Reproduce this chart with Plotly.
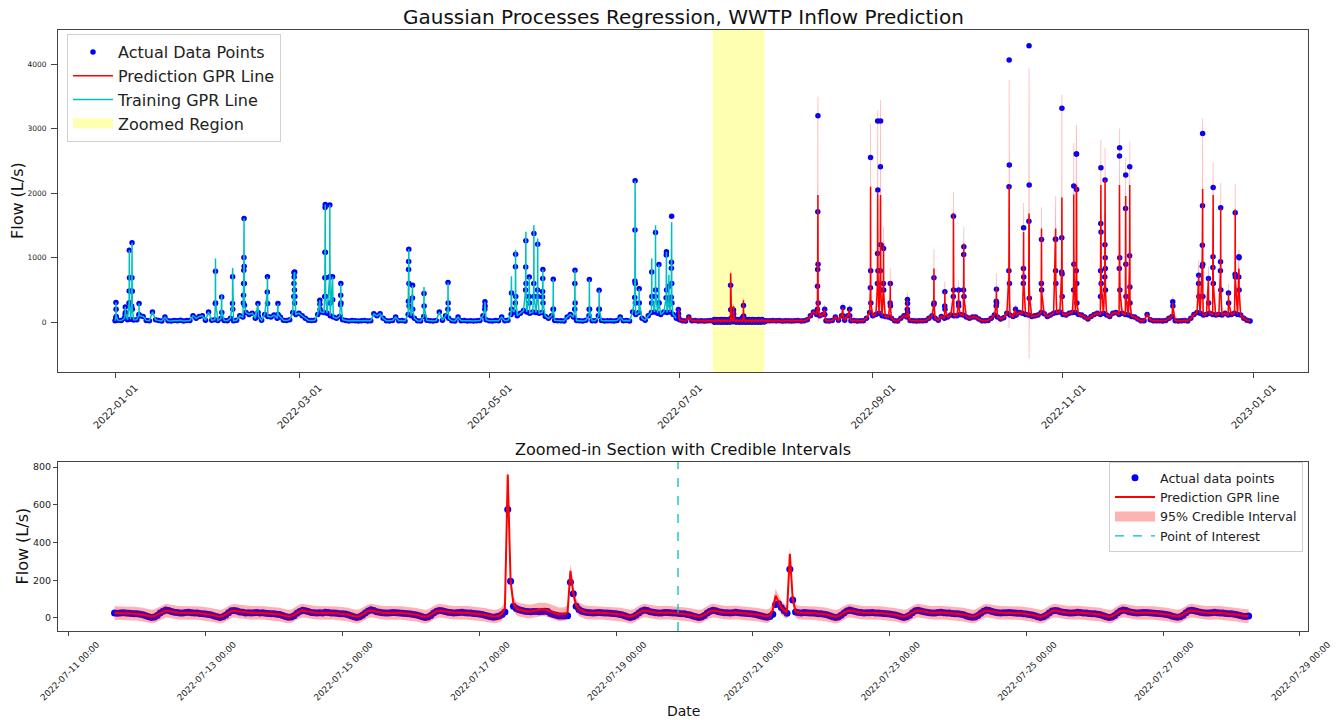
import pandas as pd
import plotly.graph_objects as go

# ====================== DATA ======================
# ---- Top panel: daily low-flow level (L/s) at 00:00, one list per month of 2022 ----
flow_jan = [24, 30, 26, 60, 40, 45, 35, 40, 100, 90, 28, 22, 160, 40, 25, 20, 80, 24, 18, 26, 22, 30, 20, 25, 28, 100, 60, 90, 100, 30, 160]
flow_feb = [30, 40, 25, 60, 28, 24, 60, 22, 30, 100, 80, 150, 120, 140, 60, 90, 30, 120, 90, 80, 110, 60, 80, 30, 25, 40, 150, 120]
flow_mar = [140, 100, 60, 30, 25, 30, 120, 160, 150, 140, 100, 80, 60, 90, 40, 25, 20, 28, 24, 18, 22, 26, 20, 24, 130, 100, 130, 60, 24, 20, 26]
flow_apr = [80, 22, 25, 20, 120, 100, 60, 24, 20, 90, 30, 22, 18, 26, 160, 30, 100, 60, 24, 20, 80, 22, 26, 20, 24, 18, 22, 25, 100, 40]
flow_may = [22, 20, 26, 24, 80, 22, 30, 120, 160, 100, 140, 180, 160, 140, 160, 150, 140, 150, 90, 60, 100, 28, 22, 24, 20, 80, 120, 80, 26, 22, 20]
flow_jun = [30, 100, 24, 22, 100, 26, 20, 24, 22, 18, 25, 80, 22, 26, 20, 160, 120, 150, 60, 30, 100, 150, 160, 140, 120, 160, 150, 160, 120, 60]
flow_jul = [40, 24, 20, 82, 22, 26, 20, 24, 18, 22, 25, 22, 20, 24, 26, 22, 20, 24, 22, 26, 20, 24, 22, 20, 26, 24, 22, 20, 24, 22, 26]
flow_aug = [22, 26, 20, 24, 22, 18, 24, 26, 20, 22, 40, 100, 160, 120, 100, 120, 24, 20, 26, 80, 30, 100, 30, 100, 22, 26, 20, 24, 22, 60, 150]
flow_sep = [100, 120, 140, 100, 90, 80, 60, 24, 20, 60, 100, 80, 26, 22, 20, 24, 22, 26, 60, 100, 60, 30, 90, 60, 80, 110, 100, 100, 120, 110]
flow_oct = [80, 60, 80, 80, 50, 24, 22, 26, 60, 110, 80, 50, 70, 140, 110, 90, 110, 150, 140, 120, 110, 90, 100, 110, 150, 130, 90, 110, 140, 150, 160]
flow_nov = [120, 110, 140, 150, 150, 120, 110, 80, 50, 90, 120, 140, 120, 140, 110, 90, 140, 150, 120, 140, 120, 110, 90, 80, 50, 24, 22, 120, 40, 22]
flow_dec = [24, 22, 20, 26, 60, 90, 24, 20, 22, 26, 20, 60, 120, 150, 140, 110, 120, 140, 120, 110, 120, 110, 140, 110, 120, 140, 120, 110, 60, 30, 20]

base_ci_halfwidth = 40          # 95% interval half-width at low flow (L/s)
split_time = "2022-06-30 12:00"  # end of GPR training period

# ---- Training period storm events: hourly values from the start time ----
train_ev_start = ["2022-01-01 06:00", "2022-01-04 06:00", "2022-01-05 12:00", "2022-01-06 08:00", "2022-01-08 16:00",
                  "2022-02-02 04:00", "2022-02-04 05:00", "2022-02-07 16:00", "2022-02-11 04:00", "2022-02-15 20:00",
                  "2022-02-18 20:00", "2022-02-22 06:00", "2022-02-27 08:00", "2022-03-07 16:00", "2022-03-09 06:00",
                  "2022-03-10 20:00", "2022-03-11 18:00", "2022-03-14 08:00", "2022-04-05 02:00", "2022-04-06 09:00",
                  "2022-04-10 02:00", "2022-04-17 18:00", "2022-04-29 14:00", "2022-05-08 03:00", "2022-05-09 09:00",
                  "2022-05-12 16:00", "2022-05-13 19:00", "2022-05-15 07:00", "2022-05-16 12:00", "2022-05-18 02:00",
                  "2022-05-21 12:00", "2022-05-28 10:00", "2022-06-02 02:00", "2022-06-05 05:00", "2022-06-16 16:00",
                  "2022-06-18 02:00", "2022-06-22 02:00", "2022-06-23 07:00", "2022-06-24 09:00", "2022-06-26 18:00",
                  "2022-06-27 14:00", "2022-06-28 09:00"]
train_ev_actual = [[60, 306, 200, 90], [120, 238, 150], [300, 486, 1118, 688, 300], [250, 486, 688, 1232, 480, 200], [120, 290, 100],
                   [290, 792, 300], [393, 150], [290, 704, 200], [300, 419, 600, 807, 1004, 1610, 870, 600, 264], [290, 150],
                   [470, 704, 290], [290, 120], [400, 600, 771, 700, 771, 500, 300, 780, 400], [342, 280, 200], [400, 688, 1084, 1780, 1828, 1084, 688, 400],
                   [700, 1818, 704, 300], [704, 350], [270, 419, 600, 300], [327, 818, 942, 1134, 600, 250], [377, 575, 200],
                   [445, 250], [200, 616, 300], [200, 316, 250], [455, 200], [300, 859, 1056, 400],
                   [500, 855, 1263, 600], [400, 700, 300], [600, 1377, 400], [500, 1211, 400], [390, 478, 678, 818, 300],
                   [200, 668, 200], [200, 600, 807, 300], [200, 662, 200], [200, 497, 200], [385, 640, 1429, 2195, 600, 300],
                   [520, 300], [300, 781, 400], [400, 1393, 500], [300, 896, 300], [378, 1044, 1092, 500],
                   [350, 559, 300], [388, 837, 929, 1646, 600, 300]]
# GPR training line where it differs from the data (None = passes through the data)
train_ev_fit = [None, None, None, None, None,
                [290, 989, 300], [420, 150], [290, 843, 200], None, None,
                None, None, None, None, None,
                None, None, None, None, None,
                [548, 250], None, None, [714, 200], [300, 859, 1120, 400],
                [500, 855, 1402, 600], None, [600, 1506, 400], [500, 1300, 400], None,
                None, None, None, None, None,
                None, [300, 989, 400], [400, 1506, 500], None, None,
                [350, 738, 300], [388, 837, 929, 1550, 600, 300]]

# ---- Prediction period storm events: hourly actual, GPR mean and 95% half-width ----
pred_ev_start = ["2022-06-30 16:00", "2022-08-14 06:00", "2022-08-16 14:00", "2022-08-22 10:00", "2022-08-24 14:00",
                 "2022-08-31 06:00", "2022-09-02 12:00", "2022-09-03 10:00", "2022-09-04 10:00", "2022-09-06 14:00",
                 "2022-09-12 02:00", "2022-09-20 14:00", "2022-09-24 02:00", "2022-09-26 20:00", "2022-09-28 12:00",
                 "2022-09-30 03:00", "2022-10-10 14:00", "2022-10-14 16:00", "2022-10-16 19:00", "2022-10-19 07:00",
                 "2022-10-21 02:00", "2022-10-25 02:00", "2022-10-29 14:00", "2022-10-31 14:00", "2022-11-04 10:00",
                 "2022-11-05 06:00", "2022-11-13 01:00", "2022-11-14 10:00", "2022-11-19 02:00", "2022-11-21 02:00",
                 "2022-11-22 09:00", "2022-12-06 05:00", "2022-12-14 12:00", "2022-12-15 16:00", "2022-12-17 16:00",
                 "2022-12-19 02:00", "2022-12-21 12:00", "2022-12-24 02:00", "2022-12-26 05:00", "2022-12-27 09:00"]
pred_ev_actual = [[197, 130, 70], [200, 559, 818, 1713, 3204, 900, 300], [200, 120], [228, 100], [200, 100],
                  [533, 2557, 800, 300], [600, 1067, 3121, 2050, 800], [800, 2412, 3121, 1200, 500], [600, 1144, 500], [300, 601, 250],
                  [200, 352, 290, 150], [275, 688, 300], [250, 471, 200], [400, 1646, 500], [300, 500, 250],
                  [500, 1050, 1170, 400], [250, 326, 512, 300], [800, 2101, 4069, 2438, 600], [200, 120], [601, 834, 1465, 700],
                  [1568, 4291, 2128, 370], [601, 1284, 500], [1289, 800, 1289, 600], [780, 1310, 3319, 750, 400], [500, 2112, 900],
                  [800, 2609, 2609, 2060, 601, 300], [400, 800, 1533, 2397, 1400, 600], [700, 1200, 2205, 1000, 834, 500], [834, 2578, 2707, 999, 500], [1766, 2283, 900, 400],
                  [1030, 2412, 548, 300], [316, 250], [601, 730, 400], [870, 1196, 1806, 2930, 900, 400], [678, 300],
                  [850, 1014, 2092, 600], [800, 937, 1775, 500], [455, 300], [745, 1697, 700], [700, 1014, 1000, 500]]
pred_ev_mean = [[197, 140, 80], [200, 540, 800, 1500, 1972, 700, 250], [190, 120], [220, 100], [190, 100],
                [500, 2101, 700, 300], [550, 1000, 2000, 1900, 750], [750, 1800, 1972, 1100, 450], [550, 1220, 450], [300, 640, 240],
                [200, 340, 280, 150], [270, 834, 280], [250, 480, 200], [380, 1700, 450], [300, 500, 250],
                [480, 1150, 1222, 380], [250, 330, 540, 300], [700, 1700, 2101, 1800, 500], [190, 120], [580, 850, 1400, 650],
                [1500, 1688, 1600, 400], [580, 1455, 450], [1289, 800, 1455, 600], [750, 1300, 1936, 750, 380], [480, 1983, 850],
                [750, 2101, 2128, 2000, 600, 300], [400, 780, 1500, 2128, 1300, 600], [680, 1200, 2205, 900, 800, 480], [800, 2128, 2100, 950, 480], [1700, 1957, 850, 380],
                [1000, 2128, 540, 300], [300, 240], [600, 720, 400], [850, 1150, 1750, 2066, 850, 380], [660, 300],
                [800, 1000, 1972, 580], [780, 900, 1760, 480], [450, 300], [700, 1750, 650], [680, 834, 800, 480]]
pred_ev_ci = [[80, 70, 60], [100, 300, 600, 1200, 1528, 700, 200], [80, 60], [80, 60], [80, 60],
              [300, 984, 400, 150], [300, 600, 1290, 1100, 400], [400, 1200, 1476, 700, 300], [300, 260, 200], [150, 200, 100],
              [100, 120, 100, 80], [120, 300, 120], [100, 150, 80], [200, 324, 200], [120, 150, 100],
              [200, 300, 260, 150], [100, 150, 220, 120], [500, 1793, 1657, 1300, 400], [80, 60], [300, 400, 450, 300],
              [1200, 2252, 1500, 300], [300, 330, 200], [400, 300, 500, 300], [400, 600, 1589, 400, 200], [300, 800, 400],
              [400, 959, 930, 800, 300, 150], [200, 300, 500, 700, 500, 300], [300, 400, 500, 400, 300, 200], [400, 800, 905, 500, 250], [500, 600, 400, 200],
              [400, 672, 300, 150], [100, 80], [200, 250, 150], [400, 500, 800, 1097, 400, 200], [200, 120],
              [300, 400, 500, 250], [300, 300, 400, 200], [150, 100], [300, 400, 250], [250, 300, 300, 200]]

# ---- Zoomed window: hourly values from 2022-07-11 16:00, one list per day ----
zoom_start = "2022-07-11 16:00"
act_11 = [26, 25, 27, 28, 26, 25, 24, 23]
act_12 = [22, 20, 17, 12, 7, 3, 5, 13, 26, 36, 42, 39, 34, 30, 29, 26, 27, 29, 30, 28, 26, 27, 24, 23]
act_13 = [21, 19, 16, 11, 6, 2, 6, 15, 28, 38, 40, 37, 32, 31, 27, 28, 26, 28, 29, 27, 28, 25, 24, 22]
act_14 = [23, 20, 18, 13, 8, 4, 5, 12, 25, 35, 41, 38, 34, 29, 28, 27, 28, 27, 30, 29, 27, 26, 25, 23]
act_15 = [22, 21, 17, 12, 7, 3, 6, 14, 27, 37, 43, 39, 33, 30, 28, 26, 27, 28, 29, 28, 26, 25, 24, 22]
act_16 = [21, 19, 16, 12, 6, 3, 5, 13, 26, 36, 40, 38, 34, 31, 29, 27, 28, 29, 30, 28, 27, 26, 24, 23]
act_17 = [21, 19, 15, 11, 7, 4, 6, 10, 18, 32, 575, 195, 62, 50, 44, 40, 36, 34, 33, 34, 35, 33, 34, 36]
act_18 = [35, 24, 18, 14, 11, 10, 10, 12, 190, 128, 62, 45, 36, 32, 29, 28, 27, 28, 29, 28, 27, 26, 25, 24]
act_19 = [22, 20, 17, 12, 7, 3, 6, 14, 27, 37, 42, 39, 33, 30, 28, 27, 27, 29, 29, 28, 27, 26, 24, 23]
act_20 = [22, 19, 16, 11, 6, 3, 5, 13, 26, 36, 41, 38, 33, 31, 28, 28, 26, 28, 30, 28, 27, 25, 24, 22]
act_21 = [21, 19, 15, 11, 6, 4, 8, 20, 72, 76, 55, 38, 25, 258, 95, 32, 28, 27, 29, 28, 27, 26, 25, 23]
act_22 = [22, 20, 17, 12, 7, 3, 5, 14, 27, 37, 42, 38, 34, 30, 29, 27, 28, 28, 29, 27, 26, 25, 24, 22]
act_23 = [21, 19, 16, 12, 6, 2, 6, 15, 28, 38, 41, 37, 33, 31, 28, 27, 27, 29, 30, 28, 27, 26, 24, 23]
act_24 = [22, 20, 17, 11, 7, 4, 5, 13, 25, 36, 42, 39, 34, 30, 28, 26, 28, 28, 29, 28, 26, 25, 25, 22]
act_25 = [21, 19, 16, 12, 6, 3, 6, 14, 27, 37, 40, 38, 33, 30, 29, 27, 27, 28, 30, 29, 27, 26, 24, 23]
act_26 = [22, 20, 17, 12, 7, 3, 5, 13, 26, 37, 42, 39, 33, 31, 28, 27, 28, 29, 29, 28, 27, 25, 24, 22]
act_27 = [21, 19, 16, 11, 6, 4, 6, 14, 28, 38, 41, 38, 34, 30, 28, 27, 27, 28, 30, 28, 26, 26, 24, 23]
act_28 = [22, 20, 17, 13, 9, 8, 10]

gpr_11 = [26, 26, 27, 27, 26, 25, 24, 23]
gpr_12 = [22, 20, 18, 14, 10, 8, 10, 17, 27, 35, 39, 37, 33, 30, 29, 28, 28, 28, 29, 28, 27, 26, 25, 23]
gpr_13 = [22, 20, 17, 13, 9, 7, 10, 18, 28, 36, 38, 36, 33, 30, 29, 28, 27, 28, 28, 28, 27, 26, 24, 23]
gpr_14 = [22, 20, 18, 14, 10, 8, 9, 16, 26, 35, 39, 37, 33, 30, 29, 28, 28, 28, 29, 28, 27, 26, 25, 23]
gpr_15 = [22, 21, 18, 13, 9, 7, 10, 17, 27, 36, 40, 37, 33, 30, 28, 27, 27, 28, 29, 28, 27, 26, 24, 23]
gpr_16 = [22, 20, 17, 13, 9, 7, 9, 16, 27, 35, 39, 37, 34, 31, 29, 28, 28, 29, 29, 28, 27, 26, 25, 23]
gpr_17 = [22, 20, 17, 13, 10, 8, 9, 13, 24, 50, 760, 195, 75, 52, 44, 40, 37, 35, 35, 37, 41, 45, 46, 45]
gpr_18 = [42, 36, 28, 22, 19, 20, 22, 30, 250, 132, 66, 46, 37, 32, 29, 28, 28, 28, 29, 28, 27, 26, 25, 23]
gpr_19 = [22, 20, 18, 13, 9, 7, 10, 17, 27, 36, 40, 37, 33, 30, 29, 28, 27, 28, 29, 28, 27, 26, 24, 23]
gpr_20 = [22, 20, 17, 13, 9, 7, 9, 16, 26, 35, 39, 37, 33, 31, 29, 28, 27, 28, 29, 28, 27, 25, 24, 23]
gpr_21 = [22, 20, 17, 13, 10, 9, 15, 42, 118, 82, 56, 40, 30, 340, 102, 36, 29, 28, 28, 28, 27, 26, 25, 23]
gpr_22 = [22, 20, 18, 13, 9, 7, 10, 17, 27, 36, 40, 37, 33, 30, 29, 28, 28, 28, 29, 28, 27, 26, 24, 23]
gpr_23 = [22, 20, 17, 13, 9, 7, 10, 18, 28, 36, 39, 36, 33, 31, 29, 28, 27, 28, 29, 28, 27, 26, 25, 23]
gpr_24 = [22, 20, 18, 14, 10, 8, 9, 16, 26, 35, 40, 37, 33, 30, 29, 28, 28, 28, 29, 28, 27, 26, 25, 23]
gpr_25 = [22, 20, 17, 13, 9, 7, 10, 17, 27, 36, 39, 37, 33, 30, 29, 28, 27, 28, 29, 28, 27, 26, 24, 23]
gpr_26 = [22, 20, 18, 13, 9, 7, 9, 16, 27, 36, 40, 37, 33, 31, 29, 28, 28, 29, 29, 28, 27, 26, 24, 23]
gpr_27 = [22, 20, 17, 13, 9, 8, 10, 17, 28, 36, 39, 37, 34, 30, 29, 28, 27, 28, 29, 28, 27, 26, 25, 23]
gpr_28 = [22, 20, 17, 14, 11, 10, 11]

zoom_ci_halfwidth = 36
point_of_interest = "2022-07-19 21:45"

top_ticks = ["2022-01-01", "2022-03-01", "2022-05-01", "2022-07-01", "2022-09-01", "2022-11-01", "2023-01-01"]
bottom_ticks = ["2022-07-11", "2022-07-13", "2022-07-15", "2022-07-17", "2022-07-19",
                "2022-07-21", "2022-07-23", "2022-07-25", "2022-07-27", "2022-07-29"]

# ====================== ASSEMBLY ======================
base_flow = (flow_jan + flow_feb + flow_mar + flow_apr + flow_may + flow_jun +
             flow_jul + flow_aug + flow_sep + flow_oct + flow_nov + flow_dec)
zoom_actual = (act_11 + act_12 + act_13 + act_14 + act_15 + act_16 + act_17 + act_18 + act_19 +
               act_20 + act_21 + act_22 + act_23 + act_24 + act_25 + act_26 + act_27 + act_28)
zoom_mean = (gpr_11 + gpr_12 + gpr_13 + gpr_14 + gpr_15 + gpr_16 + gpr_17 + gpr_18 + gpr_19 +
             gpr_20 + gpr_21 + gpr_22 + gpr_23 + gpr_24 + gpr_25 + gpr_26 + gpr_27 + gpr_28)
assert len(zoom_actual) == len(zoom_mean)

split = pd.Timestamp(split_time)
zoom_t = pd.date_range(zoom_start, periods=len(zoom_actual), freq="h")
zoom_end = zoom_t[-1]

base = pd.DataFrame({"t": pd.date_range("2022-01-01", periods=len(base_flow), freq="D"),
                     "actual": base_flow})
base = base[(base.t < zoom_t[0]) | (base.t > zoom_end)]


def expand(starts, *lists):
    rows = []
    for i, s in enumerate(starts):
        t0 = pd.Timestamp(s)
        n = len(lists[0][i])
        for k in range(n):
            rows.append([t0 + pd.Timedelta(hours=k)] + [
                (lst[i] if lst[i] is not None else lists[0][i])[k] for lst in lists])
    return rows


tr_rows = expand(train_ev_start, train_ev_actual, train_ev_fit)
train_ev = pd.DataFrame(tr_rows, columns=["t", "actual", "line"])
train_base = base[base.t < split].copy()
train_base["line"] = train_base["actual"]
train = pd.concat([train_base, train_ev]).sort_values("t")

pr_rows = expand(pred_ev_start, pred_ev_actual, pred_ev_mean, pred_ev_ci)
pred_ev = pd.DataFrame(pr_rows, columns=["t", "actual", "mean", "ci"])
pred_base = base[base.t >= split].copy()
pred_base["mean"] = pred_base["actual"]
pred_base["ci"] = base_ci_halfwidth
zoom = pd.DataFrame({"t": zoom_t, "actual": zoom_actual, "mean": zoom_mean})
zoom["ci"] = zoom_ci_halfwidth
pred = pd.concat([pred_base, pred_ev, zoom]).sort_values("t")

dots = pd.concat([train[["t", "actual"]], pred[["t", "actual"]]]).sort_values("t")

# ====================== FIGURE ======================
FONT = "DejaVu Sans"
BLUE = "#0000ff"
RED = "#ff0000"
CYAN = "#00bfbf"
BAND = "rgba(255,0,0,0.3)"
YELLOW = "rgba(255,255,0,0.3)"

fig = go.Figure()

# ---- top panel ----
fig.add_trace(go.Scatter(x=dots.t, y=dots.actual, mode="markers", name="Actual Data Points",
                         marker=dict(color=BLUE, size=5.5, line=dict(width=0)),
                         xaxis="x", yaxis="y", legend="legend", legendrank=1))
fig.add_trace(go.Scatter(x=pred.t, y=pred["mean"], mode="lines", name="Prediction GPR Line",
                         line=dict(color=RED, width=1.5), xaxis="x", yaxis="y",
                         legend="legend", legendrank=2))
fig.add_trace(go.Scatter(x=pred.t, y=pred["mean"] - pred["ci"], mode="lines",
                         line=dict(width=0.8, color="rgba(255,0,0,0.15)"),
                         showlegend=False, hoverinfo="skip", xaxis="x", yaxis="y"))
fig.add_trace(go.Scatter(x=pred.t, y=pred["mean"] + pred["ci"], mode="lines",
                         line=dict(width=0.8, color="rgba(255,0,0,0.15)"),
                         fill="tonexty", fillcolor="rgba(255,0,0,0.3)", showlegend=False,
                         hoverinfo="skip", xaxis="x", yaxis="y"))
fig.add_trace(go.Scatter(x=train.t, y=train["line"], mode="lines", name="Training GPR Line",
                         line=dict(color=CYAN, width=1.5), xaxis="x", yaxis="y",
                         legend="legend", legendrank=3))
# legend key for the shaded zoom window (patch-like swatch)
fig.add_trace(go.Scatter(x=[None], y=[None], mode="lines", name="Zoomed Region",
                         line=dict(color=YELLOW, width=14),
                         xaxis="x", yaxis="y", legend="legend", legendrank=4))

# ---- bottom panel ----
fig.add_trace(go.Scatter(x=zoom.t, y=zoom.actual, mode="markers", name="Actual data points",
                         marker=dict(color=BLUE, size=7, line=dict(width=0)),
                         xaxis="x2", yaxis="y2", legend="legend2", legendrank=1))
fig.add_trace(go.Scatter(x=zoom.t, y=zoom["mean"], mode="lines", name="Prediction GPR line",
                         line=dict(color=RED, width=2), xaxis="x2", yaxis="y2",
                         legend="legend2", legendrank=2))
fig.add_trace(go.Scatter(x=zoom.t, y=zoom["mean"] - zoom["ci"], mode="lines", line=dict(width=0),
                         showlegend=False, hoverinfo="skip", xaxis="x2", yaxis="y2"))
fig.add_trace(go.Scatter(x=zoom.t, y=zoom["mean"] + zoom["ci"], mode="lines", line=dict(width=0),
                         fill="tonexty", fillcolor=BAND, showlegend=False,
                         xaxis="x2", yaxis="y2"))
fig.add_trace(go.Scatter(x=[None], y=[None], mode="lines", name="95% Credible Interval",
                         line=dict(color=BAND, width=12),
                         xaxis="x2", yaxis="y2", legend="legend2", legendrank=3))
fig.add_trace(go.Scatter(x=[None], y=[None], mode="lines", name="Point of Interest",
                         line=dict(color=CYAN, width=1.3, dash="dash"),
                         xaxis="x2", yaxis="y2", legend="legend2", legendrank=4))

# shapes: zoomed region and point of interest
fig.add_shape(type="rect", xref="x", yref="y domain", x0=zoom_t[0], x1=zoom_end, y0=0, y1=1,
              fillcolor=YELLOW, line=dict(width=0), layer="below")
fig.add_shape(type="line", xref="x2", yref="y2 domain", x0=point_of_interest, x1=point_of_interest,
              y0=0, y1=1, line=dict(color=CYAN, width=1.3, dash="dash"))

axis_common = dict(showline=True, mirror=True, linecolor="#444", linewidth=1, ticks="outside",
                   tickcolor="#444", showgrid=False, zeroline=False, automargin=False)

fig.update_layout(
    width=1338, height=720,
    margin=dict(l=58, r=30, t=30, b=89, autoexpand=False),
    paper_bgcolor="white", plot_bgcolor="white",
    font=dict(family=FONT, color="#222"),
    hovermode=False,
    xaxis=dict(axis_common, domain=[0, 1], anchor="y", type="date",
               range=["2021-12-13 17:00", "2023-01-18 14:00"],
               tickvals=top_ticks, tickformat="%Y-%m-%d", tickangle=-45,
               tickfont=dict(size=10), ticklen=5, ticklabelshift=20),
    yaxis=dict(axis_common, domain=[0.431, 1], anchor="x", range=[-772, 4534],
               tickvals=[0, 1000, 2000, 3000, 4000], tickfont=dict(size=7.5), ticklen=6,
               ticklabelstandoff=3),
    xaxis2=dict(axis_common, domain=[0, 1], anchor="y2", type="date",
                range=["2022-07-10 20:10", "2022-07-29 02:50"],
                tickvals=bottom_ticks, tickformat="%Y-%m-%d %H:%M", tickangle=-45,
                tickfont=dict(size=8.8), ticklen=4, ticklabelshift=28),
    yaxis2=dict(axis_common, domain=[0, 0.281], anchor="x2", range=[-69, 826],
                tickvals=[0, 200, 400, 600, 800], tickfont=dict(size=9.5), ticklen=4),
    legend=dict(x=0.0072, y=0.9933, xanchor="left", yanchor="top",
                bgcolor="rgba(255,255,255,0.85)", bordercolor="#d0d0d0", borderwidth=1,
                font=dict(size=16, family=FONT, color="#222"), itemwidth=40,
                traceorder="normal"),
    legend2=dict(x=0.996, y=0.2812, xanchor="right", yanchor="top",
                 bgcolor="rgba(255,255,255,0.85)", bordercolor="#d0d0d0", borderwidth=1,
                 font=dict(size=12.6, family=FONT, color="#222"), itemwidth=40,
                 traceorder="normal"),
)

annots = [
    dict(text="Gaussian Processes Regression, WWTP Inflow Prediction", x=0.5, y=1.0216, size=20),
    dict(text="Zoomed-in Section with Credible Intervals", x=0.5, y=0.3028, size=16),
    dict(text="Date", x=0.5, y=-0.1331, size=14),
]
for a in annots:
    fig.add_annotation(text=a["text"], x=a["x"], y=a["y"], xref="paper", yref="paper",
                       xanchor="center", yanchor="middle", showarrow=False,
                       font=dict(size=a["size"], family=FONT, color="#111"))
for x, y in [(-0.032, 0.7155), (-0.0288, 0.1406)]:
    fig.add_annotation(text="Flow (L/s)", x=x, y=y, xref="paper", yref="paper", textangle=-90,
                       xanchor="center", yanchor="middle", showarrow=False,
                       font=dict(size=16, family=FONT, color="#111"))

# remove the page's default body margin so the figure sits at the window origin
fig.write_html("out.html", config={"displayModeBar": False},
               post_script="document.body.style.margin='0';document.body.style.overflow='hidden';")
